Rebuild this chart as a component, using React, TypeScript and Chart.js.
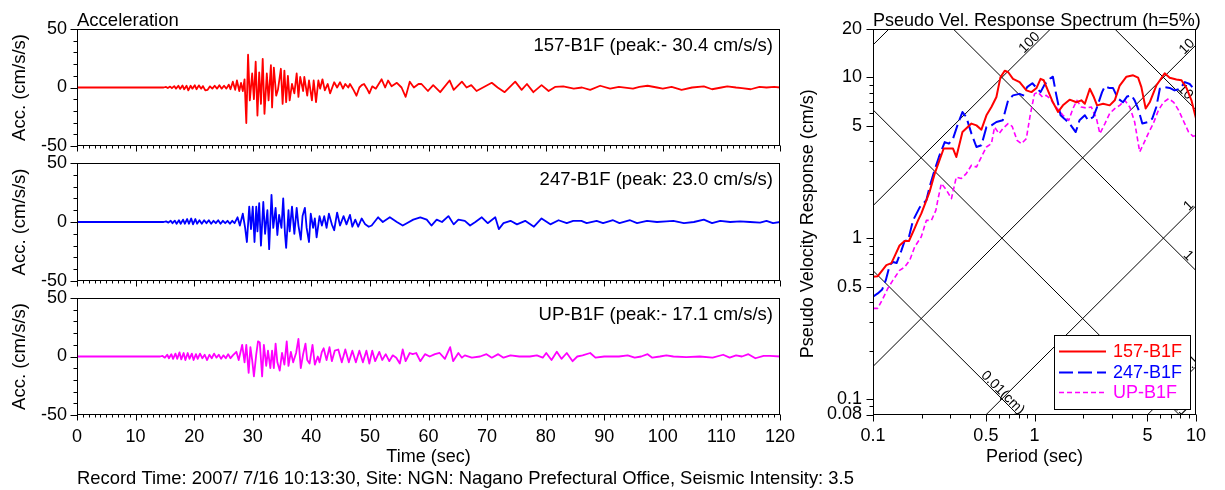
import React, { useEffect, useRef } from 'react';
import { Chart, registerables } from 'chart.js';

Chart.register(...registerables);

const FAMILY = '"Liberation Sans", Arial, Helvetica, sans-serif';

// ---------------- Acceleration time histories (time s, cm/s/s) ----------------
const redWave: [number, number][] = [
  [0, 0], [14.8, 0], [15.2, 0.5], [15.5, -0.5], [15.9, 0.8], [16.2, -0.6], [16.6, 1.2], [16.9, -1], [17.3, 1.5], [17.6, -1.2],
  [18, 1.8], [18.3, -1.5], [18.7, 1.5], [19, -2.5], [19.4, 1.5], [19.7, -1], [20.1, 2], [20.4, -1.5], [20.8, 1.8], [21.2, -1],
  [21.5, 1.2], [21.9, -2.5], [22.3, -2], [22.7, 1], [23.1, -1], [23.5, 1.5], [23.9, -1], [24.3, 2], [24.7, -1], [25.1, 1.5],
  [25.5, -1], [25.9, 2.5], [26.2, -1.5], [26.6, 5], [27, -2], [27.3, 6], [27.7, -3], [28, 4], [28.3, -3], [28.6, 7],
  [28.9, -30.4], [29.2, 28], [29.5, -11], [29.9, 12], [30.2, -10], [30.5, 22], [30.8, -24], [31.1, 13], [31.4, -14], [31.7, 24.5],
  [32.0, -22.5], [32.4, 12], [32.7, -11], [33.1, 19], [33.3, -17], [33.6, 17], [34.0, -7], [34.3, -2], [34.8, 16], [35.1, -14],
  [35.4, 14.5], [35.7, -12.5], [36.0, 10], [36.3, -11], [36.7, 3], [37.1, -5], [37.5, 12], [37.8, -8], [38.1, 9], [38.6, -3],
  [38.8, 9], [39.3, -7], [39.6, 6], [40.1, -11], [40.4, 6], [40.8, -12.5], [41.2, 6], [41.5, -1], [41.9, 7], [42.3, -2.5],
  [42.8, 3], [43.2, -5], [43.9, 4.5], [44.4, 0], [44.9, 4.5], [45.4, -1], [45.8, 3], [46.3, 0], [46.6, 3], [47.2, -2],
  [47.7, -7], [48.2, 0], [48.6, 2], [49.0, 3], [49.5, -1], [49.9, -5], [50.4, 1], [51, -1], [52, 7], [52.6, 0],
  [53.1, 6], [53.7, 1], [54.6, 4], [55.4, 0], [56.1, -8], [56.8, 5], [57.5, 0], [58.3, 3], [58.8, 3], [59.9, -3],
  [60.8, 2], [62, -4], [63.6, 6], [64.3, -2], [65.7, 5], [66.5, 0], [67.3, 2], [68.2, -3], [69.3, 0], [70.8, 4],
  [71.8, 0], [73, -4], [74.8, 5], [75.9, -2], [76.8, 3], [77.9, -4], [79.3, 2], [80.5, -3], [81.6, 0.5], [83, 1],
  [84.8, -1], [86.2, 0], [87.6, -2], [89.3, 1.5], [91, -1], [92.5, 0.5], [94.9, -1], [96, 0.5], [97.4, 1.5], [99, 0],
  [100, -1], [101.5, 0.5], [103.2, -2], [105, 0], [107, 1], [108.4, -1.5], [110, 0], [111, 1], [112.5, 0], [113.5, -0.5],
  [115, -1.5], [116.5, 0.5], [117.7, 0], [119, 0.5], [120, 0],
];

const blueWave: [number, number][] = [
  [0, 0], [14.8, 0], [15.2, 0.5], [15.6, -0.5], [16, 1], [16.3, -1], [16.7, 1.2], [17, -1.5], [17.4, 1.5], [17.7, -1.5],
  [18.1, 2], [18.4, -1.5], [18.8, 2.5], [19.1, -1.5], [19.5, 3], [19.8, -2], [20.2, 2.5], [20.5, -1.5], [20.9, 1.5], [21.3, -1.5],
  [21.7, 1.5], [22.1, -1], [22.5, 1.5], [22.9, -1.5], [23.3, 1], [23.7, -1], [24.1, 1.5], [24.5, -1.5], [24.9, 1], [25.3, -1],
  [25.7, 1], [26.1, -1.5], [26.5, 1], [26.9, -1], [27.4, 4], [27.8, -3], [28.3, 7], [28.7, -5], [29.0, -17], [29.4, 13],
  [29.7, -6], [30.0, 13], [30.3, -17], [30.6, 13], [30.8, -8], [31.1, 16], [31.4, -20], [31.8, 17], [32.1, -10], [32.5, 10],
  [32.8, -23], [33.2, 23], [33.5, -5], [33.9, 12], [34.2, -11], [34.5, 6], [34.9, -5], [35.2, 20], [35.5, -10], [35.7, -22],
  [36.1, 10], [36.3, -8], [36.7, 13], [37.1, -10], [37.5, 12], [37.8, -3], [38.2, -15], [38.5, 5], [38.9, 12], [39.2, -5],
  [39.6, -17], [39.9, 7], [40.3, -5], [40.6, 3], [40.9, -13], [41.4, 5], [41.8, -3], [42.2, 5], [42.6, -5], [43.0, 7],
  [43.5, -2], [43.9, -7], [44.4, 8], [44.9, -3], [45.5, 5], [46.0, -2], [46.6, 6], [47.0, -4], [47.5, 2], [48.0, -4],
  [48.6, 3], [49.2, -2], [49.8, -4], [50.3, -3], [51.4, 4], [52.2, 0], [53.4, 4], [54.6, 0], [55.6, -3], [56.3, -1],
  [57.4, 2], [58.6, 4], [59.7, 2], [60.5, -3], [61.4, 2], [62.3, 0], [63.4, 5], [64.3, -2], [65.1, 2], [66.2, 1],
  [67.1, -3], [68, 0], [69.1, 4], [70.1, -1], [71.4, 4], [72.0, -6], [72.8, -1], [74.0, 1], [75.1, -2], [76.5, 1],
  [78.0, -4], [79.3, 3], [80.8, -2], [82.2, 1.5], [83.6, -1], [84.7, 1], [86.1, 1], [87.0, -1], [88.7, 1], [89.8, -1],
  [91.5, 1.5], [92.6, -1], [94.4, 1.5], [95.6, -1], [97.3, 1], [99, 0], [100.6, 0.5], [101.8, 1], [103.6, -1], [105.3, 0],
  [107, 2], [108.4, -1], [109.8, 1], [111.5, 0], [113.2, 0.5], [114.9, 0], [116.6, -0.5], [117.7, 1], [118.8, -1], [120, 0],
];

const magentaWave: [number, number][] = [
  [0, 0], [14.2, 0], [14.6, 0.5], [15, -1], [15.4, 1.5], [15.7, -1.5], [16.1, 2], [16.4, -2], [16.8, 2.5], [17.1, -2],
  [17.5, 3.5], [17.8, -2.5], [18.2, 3], [18.5, -3], [18.9, 3], [19.2, -2], [19.6, 2.5], [19.9, -3], [20.3, 2], [20.6, -2],
  [21, 2.5], [21.4, -1.5], [21.8, 1.5], [22.2, -3], [22.6, 1.5], [23, -1.5], [23.4, 2.5], [23.8, -1], [24.2, 1.5], [24.6, -2],
  [25, 1], [25.4, -1.5], [25.8, 2], [26.2, -1.5], [26.6, 1], [27.2, 4], [27.6, -3], [28.2, 10], [28.6, -5], [28.9, 10],
  [29.3, -14], [29.6, 8], [29.9, -3], [30.2, -17], [30.6, 2], [30.9, 13], [31.2, 12], [31.6, -17], [31.9, 10], [32.3, -8],
  [32.6, 5], [33.0, -10], [33.3, 5], [33.6, -10], [33.9, 11], [34.2, -5], [34.6, -12], [35.0, 3], [35.4, -7], [35.8, 13],
  [36.1, -8], [36.5, 4], [36.9, -5], [37.4, 3], [37.8, 15], [38.2, -10], [38.6, 2], [39.0, 11], [39.3, -3], [39.7, -6],
  [40.2, 10], [40.6, -7], [41.1, 0], [41.4, -5], [41.8, 4], [42.1, 7], [42.6, -3], [43.1, 8], [43.5, -4], [44.0, 5],
  [44.6, 6], [45.2, -5], [45.8, 6], [46.4, -5], [47.0, 5], [47.6, -5], [48.2, 5], [48.8, -5], [49.4, 5], [49.9, -6],
  [50.4, 5], [50.9, -4], [51.6, 4], [52.1, -3], [52.7, 2], [53.3, -4], [53.9, 1], [54.5, -1], [55.1, -6], [55.6, 6],
  [56.1, -4], [56.8, 3], [57.3, 2], [57.9, 3], [58.6, -4], [59.4, 2], [60.2, 0], [61.1, 2], [61.9, 3], [62.8, -2],
  [63.7, 8], [64.2, -4], [65.1, 3], [65.7, -1], [66.2, 1], [67.4, -1], [68.8, 0], [69.9, 2], [70.8, -1], [71.9, 2],
  [72.8, -1], [74.0, 1], [75.5, 0], [77.3, 0], [78.5, 1], [79.5, -1], [80.1, 3], [81.0, -3], [81.9, 4], [82.7, -2],
  [83.6, 3], [84.6, -4], [85.4, 0], [86.3, 1], [87.6, 3], [88.5, -1], [90, 0], [92.5, 0], [94, 1], [95.2, -1],
  [96.3, 0], [97.4, 2], [98.2, -1], [99.5, 0], [100.6, 1], [101.8, 0], [104, -0.5], [106.3, 0], [108.5, -1], [110.3, 1.5],
  [111.4, -1], [112.5, 1], [113.5, 0], [114.6, 2], [115.8, -1.5], [117.2, 0.5], [118.3, 0.5], [120, 0],
];

const panelLabels = ['157-B1F (peak:- 30.4 cm/s/s)', '247-B1F (peak: 23.0 cm/s/s)', 'UP-B1F (peak:- 17.1 cm/s/s)'];
const timeLabelTicks = [0, 10, 20, 30, 40, 50, 60, 70, 80, 90, 100, 110, 120];
const accLabelTicks = [-50, 0, 50];

// ---------------- Pseudo velocity response spectra (period s, cm/s) ----------------
const redSpecT = [0.1, 0.107, 0.121, 0.13, 0.136, 0.146, 0.157, 0.167, 0.181, 0.19, 0.199, 0.214, 0.224, 0.241, 0.274, 0.313, 0.328, 0.358, 0.407, 0.437, 0.469, 0.504, 0.541, 0.581, 0.615, 0.654, 0.686, 0.736, 0.809, 0.891, 0.957, 1.03, 1.09, 1.14, 1.21, 1.3, 1.4, 1.5, 1.65, 1.82, 1.95, 2.05, 2.2, 2.33, 2.44, 2.66, 2.92, 3.14, 3.37, 3.71, 4.08, 4.38, 4.59, 4.88, 5.17, 5.68, 6.4, 6.87, 7.56, 8.13, 8.73, 9.37, 10];
const redSpecV = [0.575, 0.58, 0.68, 0.7, 0.77, 0.9, 0.96, 0.96, 1.15, 1.29, 1.42, 1.72, 1.94, 2.52, 3.61, 3.61, 3.2, 4.57, 5.16, 5.03, 4.73, 5.81, 6.54, 7.55, 10.0, 11.0, 10.8, 9.8, 9.35, 8.3, 8.1, 8.6, 9.8, 9.6, 8.3, 7.0, 6.1, 6.7, 7.27, 7.0, 7.2, 6.85, 8.5, 7.55, 6.7, 6.85, 6.7, 7.2, 8.9, 10.1, 10.3, 9.96, 8.7, 6.4, 7.0, 8.9, 10.6, 9.96, 9.7, 9.6, 8.6, 7.2, 5.54];

const blueSpecT = [0.1, 0.107, 0.114, 0.12, 0.127, 0.133, 0.14, 0.15, 0.157, 0.165, 0.177, 0.195, 0.214, 0.224, 0.237, 0.256, 0.278, 0.295, 0.313, 0.336, 0.358, 0.378, 0.407, 0.437, 0.469, 0.504, 0.541, 0.581, 0.636, 0.686, 0.736, 0.809, 0.85, 0.9, 0.97, 1.03, 1.09, 1.16, 1.24, 1.3, 1.36, 1.45, 1.53, 1.65, 1.8, 1.9, 2.05, 2.15, 2.31, 2.44, 2.62, 2.73, 2.89, 3.06, 3.29, 3.53, 3.74, 3.98, 4.17, 4.38, 4.65, 5.06, 5.36, 5.68, 5.97, 6.4, 6.87, 7.36, 7.97, 8.53, 9.14, 10];
const blueSpecV = [0.432, 0.453, 0.48, 0.548, 0.68, 0.71, 0.7, 0.84, 0.96, 0.97, 1.29, 1.56, 1.72, 2.08, 2.52, 3.2, 3.96, 3.87, 4.16, 5.16, 6.09, 5.67, 4.47, 3.69, 3.78, 4.91, 5.03, 5.28, 5.41, 7.2, 7.73, 7.9, 7.73, 8.7, 9.2, 8.6, 8.1, 9.1, 9.8, 10.1, 7.9, 5.81, 5.54, 5.16, 4.57, 5.41, 5.81, 5.41, 5.67, 6.54, 8.1, 8.8, 8.6, 8.6, 7.38, 7.0, 7.6, 7.73, 7.2, 6.4, 5.16, 5.28, 5.54, 6.54, 8.5, 8.7, 8.6, 8.3, 8.5, 9.35, 9.1, 8.2];

const magentaSpecT = [0.1, 0.107, 0.115, 0.124, 0.133, 0.146, 0.157, 0.169, 0.181, 0.199, 0.214, 0.23, 0.245, 0.253, 0.265, 0.285, 0.306, 0.328, 0.352, 0.378, 0.407, 0.437, 0.469, 0.504, 0.541, 0.566, 0.603, 0.636, 0.686, 0.727, 0.78, 0.83, 0.89, 0.94, 1.0, 1.05, 1.12, 1.18, 1.25, 1.36, 1.5, 1.63, 1.73, 1.83, 1.95, 2.1, 2.25, 2.42, 2.54, 2.73, 2.92, 3.14, 3.37, 3.62, 3.89, 4.17, 4.48, 4.74, 5.06, 5.44, 5.85, 6.28, 6.77, 7.28, 7.81, 8.42, 9.0, 9.6, 10];
const magentaSpecV = [0.366, 0.366, 0.42, 0.49, 0.548, 0.63, 0.66, 0.73, 0.88, 1.02, 1.29, 1.29, 1.49, 1.76, 2.19, 1.99, 1.76, 2.4, 2.35, 2.52, 2.84, 2.77, 3.2, 3.69, 3.87, 4.91, 4.47, 4.8, 5.16, 4.96, 4.06, 3.87, 4.16, 5.81, 7.9, 8.1, 7.55, 7.73, 7.38, 6.54, 5.81, 5.41, 6.4, 7.2, 6.54, 6.45, 6.54, 5.54, 4.47, 5.16, 5.96, 6.4, 6.7, 7.2, 6.54, 5.28, 3.44, 3.87, 4.47, 5.16, 6.24, 7.0, 7.38, 7.0, 6.24, 5.28, 4.57, 4.3, 4.36];

const specNames = ['157-B1F', '247-B1F', 'UP-B1F'];
const specColors = ['#ff0000', '#0000ff', '#ff00ff'];
const specDashes: number[][] = [[], [14, 5], [5, 3]];
const specWidths = [2, 2, 1.6];

const periodTicks = [0.1, 0.2, 0.3, 0.4, 0.5, 0.6, 0.7, 0.8, 0.9, 1, 2, 3, 4, 5, 6, 7, 8, 9, 10];
const periodLabels = [0.1, 0.5, 1, 5, 10];
const velTicks = [0.08, 0.09, 0.1, 0.2, 0.3, 0.4, 0.5, 0.6, 0.7, 0.8, 0.9, 1, 2, 3, 4, 5, 6, 7, 8, 9, 10, 20];
const velLabels = [0.08, 0.1, 0.5, 1, 5, 10, 20];

// tripartite guide lines: constant pseudo-acceleration (cm/s/s) and displacement (cm)
const accelLines = [0.1, 1, 10, 100, 1000];
const dispLines = [0.01, 0.1, 1, 10];
const guideLabels: { kind: 'A' | 'D'; value: number; text: string; at: number }[] = [
  { kind: 'A', value: 100, text: '100', at: 0.98 },
  { kind: 'A', value: 10, text: '10', at: 9.25 },
  { kind: 'A', value: 1, text: '1', at: 9.5 },
  { kind: 'A', value: 0.1, text: '0.1', at: 9.7 },
  { kind: 'D', value: 10, text: '10', at: 8.15 },
  { kind: 'D', value: 1, text: '1', at: 8.5 },
  { kind: 'D', value: 0.1, text: '0.1', at: 7.5 },
  { kind: 'D', value: 0.01, text: '0.01(cm)', at: 0.605 },
];

const font = (size: number) => `${size}px ${FAMILY}`;

function frameTicks(xMajor: (v: number) => boolean, yMajor: (v: number) => boolean, xLen: [number, number], yLen: [number, number], extra?: (chart: any) => void) {
  return {
    id: 'frameTicks',
    afterDraw(chart: any) {
      const { ctx, chartArea: a, scales } = chart;
      const xs = scales.x;
      const ys = scales.y;
      const L = Math.round(a.left) + 0.5;
      const R = Math.round(a.right) - 0.5;
      const T = Math.round(a.top) + 0.5;
      const B = Math.round(a.bottom) - 0.5;
      ctx.save();
      ctx.strokeStyle = '#000';
      ctx.lineWidth = 1;
      ctx.beginPath();
      for (const t of xs.ticks) {
        const px = Math.round(xs.getPixelForValue(t.value)) + 0.5;
        const len = xMajor(t.value) ? xLen[1] : xLen[0];
        ctx.moveTo(px, B);
        ctx.lineTo(px, B + len);
      }
      for (const t of ys.ticks) {
        const py = Math.round(ys.getPixelForValue(t.value)) + 0.5;
        const len = yMajor(t.value) ? yLen[1] : yLen[0];
        ctx.moveTo(L, py);
        ctx.lineTo(L - len, py);
      }
      ctx.stroke();
      ctx.strokeRect(L, T, R - L, B - T);
      ctx.restore();
      if (extra) {
        ctx.save();
        extra(chart);
        ctx.restore();
      }
    },
  };
}

const noPadX = (h: number) => (s: any) => {
  s.height = h;
  s.paddingLeft = 0;
  s.paddingRight = 0;
  s.paddingTop = 0;
  s.paddingBottom = 0;
};
const noPadY = (w: number) => (s: any) => {
  s.width = w;
  s.paddingLeft = 0;
  s.paddingRight = 0;
  s.paddingTop = 0;
  s.paddingBottom = 0;
};

type PanelProps = {
  wave: [number, number][];
  color: string;
  index: number;
  top: number;
  width: number;
  height: number;
  padTop: number;
  padRight: number;
  xAxisH: number;
};

function WavePanel({ wave, color, index, top, width, height, padTop, padRight, xAxisH }: PanelProps) {
  const ref = useRef<HTMLCanvasElement>(null);
  useEffect(() => {
    const showLabels = index === 2;
    const extra = (chart: any) => {
      const { ctx, chartArea: a } = chart;
      ctx.fillStyle = '#000';
      ctx.font = font(18.5);
      ctx.textAlign = 'right';
      ctx.textBaseline = 'middle';
      ctx.fillText(panelLabels[index], a.right - 7, a.top + 17);
      ctx.save();
      ctx.translate(20, (a.top + a.bottom) / 2);
      ctx.rotate(-Math.PI / 2);
      ctx.textAlign = 'center';
      ctx.fillText('Acc. (cm/s/s)', 0, 0);
      ctx.restore();
      if (index === 0) {
        ctx.textAlign = 'left';
        ctx.textBaseline = 'alphabetic';
        ctx.fillText('Acceleration', a.left, 26);
      }
      if (index === 2) {
        ctx.textAlign = 'center';
        ctx.textBaseline = 'alphabetic';
        ctx.font = font(18);
        ctx.fillText('Time (sec)', (a.left + a.right) / 2, 462 - top);
        ctx.textAlign = 'left';
        ctx.font = font(18.4);
        ctx.fillText('Record Time: 2007/ 7/16 10:13:30, Site: NGN: Nagano Prefectural Office, Seismic Intensity: 3.5', a.left, 484 - top);
      }
    };
    const chart = new Chart(ref.current as HTMLCanvasElement, {
      type: 'line',
      data: {
        datasets: [
          {
            data: wave.map(([t, v]) => ({ x: t, y: v })),
            borderColor: color,
            borderWidth: 1.8,
            borderJoinStyle: 'round',
            pointRadius: 0,
            tension: 0,
            fill: false,
          },
        ],
      },
      options: {
        animation: false,
        responsive: false,
        devicePixelRatio: 1,
        events: [],
        layout: { padding: { left: 0, top: padTop, right: padRight, bottom: 0 } },
        plugins: { legend: { display: false }, tooltip: { enabled: false }, title: { display: false } },
        scales: {
          x: {
            type: 'linear',
            min: 0,
            max: 120,
            grid: { display: false, drawTicks: false },
            border: { display: false },
            ticks: {
              stepSize: 1,
              autoSkip: false,
              maxRotation: 0,
              minRotation: 0,
              padding: 11,
              color: '#000',
              font: { family: FAMILY, size: 18 },
              callback: (v: any) => (showLabels && timeLabelTicks.includes(Number(v)) ? String(v) : ''),
            },
            afterFit: noPadX(xAxisH),
          },
          y: {
            type: 'linear',
            min: -50,
            max: 50,
            grid: { display: false, drawTicks: false },
            border: { display: false },
            ticks: {
              stepSize: 10,
              autoSkip: false,
              padding: 10,
              color: '#000',
              font: { family: FAMILY, size: 18 },
              callback: (v: any) => (accLabelTicks.includes(Number(v)) ? String(v) : ''),
            },
            afterFit: noPadY(77),
          },
        },
      } as any,
      plugins: [frameTicks((v) => v % 10 === 0, (v) => v % 50 === 0, [3, 6], [4, 7], extra)],
    });
    return () => chart.destroy();
  }, []);
  return (
    <canvas
      ref={ref}
      width={width}
      height={height}
      style={{ position: 'absolute', left: 0, top, width, height }}
    />
  );
}

function SpectrumPanel() {
  const ref = useRef<HTMLCanvasElement>(null);
  useEffect(() => {
    const series = [
      { t: redSpecT, v: redSpecV },
      { t: blueSpecT, v: blueSpecV },
      { t: magentaSpecT, v: magentaSpecV },
    ];
    const guides = {
      id: 'guides',
      beforeDatasetsDraw(chart: any) {
        const { ctx, chartArea: a, scales } = chart;
        const x = scales.x;
        const y = scales.y;
        ctx.save();
        ctx.beginPath();
        ctx.rect(a.left, a.top, a.right - a.left, a.bottom - a.top);
        ctx.clip();
        ctx.strokeStyle = '#000';
        ctx.lineWidth = 1;
        const t0 = periodTicks[0];
        const t1 = periodTicks[periodTicks.length - 1];
        for (const A of accelLines) {
          ctx.beginPath();
          ctx.moveTo(x.getPixelForValue(t0), y.getPixelForValue((A * t0) / (2 * Math.PI)));
          ctx.lineTo(x.getPixelForValue(t1), y.getPixelForValue((A * t1) / (2 * Math.PI)));
          ctx.stroke();
        }
        for (const D of dispLines) {
          ctx.beginPath();
          ctx.moveTo(x.getPixelForValue(t0), y.getPixelForValue((2 * Math.PI * D) / t0));
          ctx.lineTo(x.getPixelForValue(t1), y.getPixelForValue((2 * Math.PI * D) / t1));
          ctx.stroke();
        }
        ctx.fillStyle = '#000';
        ctx.font = font(14);
        ctx.textAlign = 'center';
        ctx.textBaseline = 'middle';
        const off = 5;
        for (const g of guideLabels) {
          const sv = g.kind === 'A' ? (g.value * g.at) / (2 * Math.PI) : (2 * Math.PI * g.value) / g.at;
          const px = x.getPixelForValue(g.at);
          const py = y.getPixelForValue(sv);
          const nx = g.kind === 'A' ? -Math.SQRT1_2 : Math.SQRT1_2;
          const ny = -Math.SQRT1_2;
          ctx.save();
          ctx.translate(px + nx * off, py + ny * off);
          ctx.rotate(g.kind === 'A' ? -Math.PI / 4 : Math.PI / 4);
          ctx.fillText(g.text, 0, 0);
          ctx.restore();
        }
        ctx.restore();
      },
    };
    const extra = (chart: any) => {
      const { ctx, chartArea: a } = chart;
      // legend
      const lx = Math.round(a.right - 142) + 0.5;
      const ly = Math.round(a.bottom - 80) + 0.5;
      const lw = 136;
      const lh = 74;
      ctx.fillStyle = '#fff';
      ctx.fillRect(lx, ly, lw, lh);
      ctx.strokeStyle = '#000';
      ctx.lineWidth = 1;
      ctx.strokeRect(lx, ly, lw, lh);
      const rows = [a.bottom - 63, a.bottom - 42, a.bottom - 22];
      ctx.font = font(18);
      ctx.textAlign = 'left';
      ctx.textBaseline = 'middle';
      for (let i = 0; i < 3; i++) {
        ctx.save();
        ctx.strokeStyle = specColors[i];
        ctx.lineWidth = specWidths[i];
        ctx.setLineDash(specDashes[i]);
        ctx.beginPath();
        ctx.moveTo(a.right - 137, rows[i]);
        ctx.lineTo(a.right - 90, rows[i]);
        ctx.stroke();
        ctx.restore();
        ctx.fillStyle = specColors[i];
        ctx.fillText(specNames[i], a.right - 83, rows[i] + 1);
      }
      // titles
      ctx.fillStyle = '#000';
      ctx.textAlign = 'left';
      ctx.textBaseline = 'alphabetic';
      ctx.fillText('Pseudo Vel. Response Spectrum (h=5%)', a.left, 25.5);
      ctx.textAlign = 'center';
      ctx.fillText('Period (sec)', (a.left + a.right) / 2, 462);
      ctx.save();
      ctx.translate(18, (a.top + a.bottom) / 2 + 2);
      ctx.rotate(-Math.PI / 2);
      ctx.textBaseline = 'middle';
      ctx.fillText('Pseudo Velocity Response (cm/s)', 0, 0);
      ctx.restore();
    };
    const chart = new Chart(ref.current as HTMLCanvasElement, {
      type: 'scatter',
      data: {
        datasets: series.map((s, i) => ({
          label: specNames[i],
          data: s.t.map((t, k) => ({ x: t, y: s.v[k] })),
          showLine: true,
          borderColor: specColors[i],
          borderWidth: specWidths[i],
          borderDash: specDashes[i],
          borderJoinStyle: 'round',
          pointRadius: 0,
          tension: 0,
          fill: false,
        })),
      },
      options: {
        animation: false,
        responsive: false,
        devicePixelRatio: 1,
        events: [],
        layout: { padding: { left: 0, top: 29, right: 29, bottom: 0 } },
        plugins: { legend: { display: false }, tooltip: { enabled: false }, title: { display: false } },
        scales: {
          x: {
            type: 'logarithmic',
            min: 0.1,
            max: 10,
            grid: { display: false, drawTicks: false },
            border: { display: false },
            afterBuildTicks: (s: any) => {
              s.ticks = periodTicks.map((value) => ({ value }));
            },
            ticks: {
              autoSkip: false,
              maxRotation: 0,
              minRotation: 0,
              padding: 11,
              color: '#000',
              font: { family: FAMILY, size: 18 },
              callback: (v: any) => (periodLabels.includes(Number(v)) ? String(v) : ''),
            },
            afterFit: noPadX(75.5),
          },
          y: {
            type: 'logarithmic',
            min: 0.08,
            max: 20,
            grid: { display: false, drawTicks: false },
            border: { display: false },
            afterBuildTicks: (s: any) => {
              s.ticks = velTicks.map((value) => ({ value }));
            },
            ticks: {
              autoSkip: false,
              padding: 11,
              color: '#000',
              font: { family: FAMILY, size: 18 },
              callback: (v: any) => (velLabels.includes(Number(v)) ? String(v) : ''),
            },
            afterFit: noPadY(83),
          },
        },
      } as any,
      plugins: [
        guides,
        frameTicks((v) => periodLabels.includes(v), (v) => velLabels.includes(v), [4, 7], [4, 7], extra),
      ],
    });
    return () => chart.destroy();
  }, []);
  return (
    <canvas
      ref={ref}
      width={435}
      height={490}
      style={{ position: 'absolute', left: 790, top: 0, width: 435, height: 490 }}
    />
  );
}

export default function App() {
  return (
    <div
      style={{
        position: 'absolute',
        left: 0,
        top: 0,
        width: 1225,
        height: 490,
        background: '#fff',
        overflow: 'hidden',
      }}
    >
      <WavePanel wave={redWave} color="#ff0000" index={0} top={0} width={800} height={160} padTop={29} padRight={20} xAxisH={14} />
      <WavePanel wave={blueWave} color="#0000ff" index={1} top={150} width={800} height={145} padTop={13} padRight={20} xAxisH={14} />
      <WavePanel wave={magentaWave} color="#ff00ff" index={2} top={285} width={900} height={205} padTop={13} padRight={120} xAxisH={75} />
      <SpectrumPanel />
    </div>
  );
}
